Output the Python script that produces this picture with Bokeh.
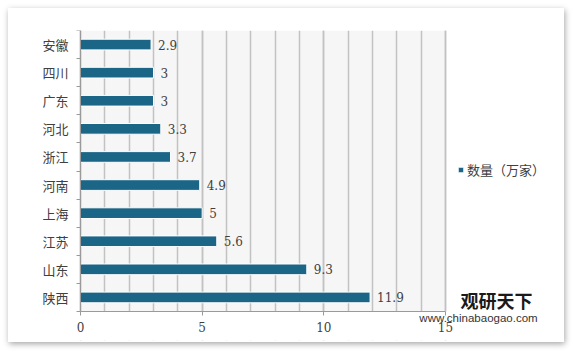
from bokeh.plotting import figure
from bokeh.models import (Range1d, LinearAxis, FixedTicker, Legend, LegendItem,
                          Label, ColumnDataSource, BoxAnnotation, Grid)
from bokeh.core.properties import value
from bokeh.embed import file_html
from bokeh.resources import INLINE

provinces = ["安徽", "四川", "广东", "河北", "浙江", "河南", "上海", "江苏", "山东", "陕西"]
counts = [2.9, 3, 3, 3.3, 3.7, 4.9, 5, 5.6, 9.3, 11.9]
count_labels = ["2.9", "3", "3", "3.3", "3.7", "4.9", "5", "5.6", "9.3", "11.9"]
series_name = "数量（万家）"
x_ticks = [0, 5, 10, 15]

n = len(provinces)
cats = provinces[::-1]
vals = counts[::-1]
labs = count_labels[::-1]
pos = [i + 0.5 for i in range(n)]  # category centres (bottom to top)
src = ColumnDataSource(dict(pos=pos, prov=cats, val=vals, lab=labs))

BAR = "#1b6587"
AXIS = "#9a9a9a"
GRID = "#c2c2c2"
TXT = "#404040"

# layout (pixels inside the 556x334 card)
W, H = 556, 334
LEFT, TOP, RIGHT, BOTTOM = 4, 22, 4, 2
PLOT_LEFT = 72                     # grey plot area left edge inside the card
PLOT_W, PLOT_H = 365, 281          # grey plot area size
frame_w = W - LEFT - RIGHT
frame_h = H - TOP - BOTTOM
ppu = PLOT_W / x_ticks[-1]
x_start = -(PLOT_LEFT - LEFT) / ppu
x_end = x_start + frame_w / ppu
y_start = -n * (frame_h - PLOT_H) / PLOT_H

p = figure(width=W, height=H, y_range=Range1d(y_start, n), x_range=Range1d(x_start, x_end),
           output_backend="svg", toolbar_location=None, y_axis_location=None,
           min_border_left=LEFT, min_border_right=RIGHT, min_border_top=TOP, min_border_bottom=BOTTOM)
p.margin = (8, 0, 0, 8)
p.styles = {"box-shadow": "1px 2px 6px rgba(0,0,0,0.35)"}
p.background_fill_color = "white"
p.border_fill_color = "white"
p.outline_line_color = None

# grey plot area
p.add_layout(BoxAnnotation(left=x_ticks[0], right=x_ticks[-1], bottom=0, top=n,
                           fill_color="#f6f6f6", fill_alpha=1, line_color=None, level="image"))

bars = p.hbar(y="pos", right="val", height=0.38, source=src,
              fill_color=BAR, line_color="white", line_width=1)
p.text(x="val", y="pos", text="lab", source=src, x_offset=7, text_baseline="middle",
       text_font=value("DejaVu Serif"), text_font_size="12px", text_color=TXT)

# x axis drawn at y = 0
xa = p.xaxis[0]
xa.fixed_location = 0
xa.bounds = (x_ticks[0], x_ticks[-1])
xa.ticker = FixedTicker(ticks=x_ticks, minor_ticks=list(range(x_ticks[0], x_ticks[-1] + 1)))
xa.axis_line_color = AXIS
xa.major_tick_line_color = AXIS
xa.major_tick_out = 4
xa.major_tick_in = 0
xa.minor_tick_line_color = None
xa.major_label_text_font = "DejaVu Serif"
xa.major_label_text_font_size = "12px"
xa.major_label_text_color = TXT
xa.major_label_standoff = 6

for g in p.center:
    if isinstance(g, Grid):
        if g.dimension == 0:
            g.grid_line_color = GRID
            g.minor_grid_line_color = GRID
            g.grid_line_width = 1.5
            g.minor_grid_line_width = 1.5
        else:
            g.visible = False

# hide grid lines below the plot area
p.add_layout(BoxAnnotation(top=0, fill_color="white", fill_alpha=1, line_color=None, level="underlay"))

# y axis drawn at x = 0: labels at band centres, tick marks between categories (minor ticks)
cat_axis = LinearAxis(ticker=FixedTicker(ticks=pos, minor_ticks=list(range(n + 1))),
                      major_label_overrides={pv: c for pv, c in zip(pos, cats)},
                      bounds=(0, n), fixed_location=0,
                      axis_line_color=AXIS, major_tick_line_color=None,
                      major_tick_out=4, major_tick_in=0,
                      minor_tick_line_color=AXIS, minor_tick_out=4, minor_tick_in=0,
                      major_label_standoff=8, major_label_text_font="Noto Sans CJK SC",
                      major_label_text_font_size="13px", major_label_text_color=TXT)
p.add_layout(cat_axis, "left")

# legend (screen offsets from frame bottom-left)
legend = Legend(items=[LegendItem(label=series_name, renderers=[bars])], location=(445, 161),
                padding=0, margin=0, border_line_color=None, background_fill_alpha=0,
                glyph_width=7, glyph_height=7, label_standoff=3,
                label_text_font="Noto Sans CJK SC", label_text_font_size="13px",
                label_text_color=TXT)
p.add_layout(legend, "center")

p.add_layout(Label(x=484, y=41, x_units="screen", y_units="screen", text="观研天下",
                   text_font="Noto Sans CJK SC", text_font_size="18px", text_font_style="bold",
                   text_color="#1a1a1a", text_align="center", text_baseline="middle"))
p.add_layout(Label(x=466, y=23, x_units="screen", y_units="screen", text="www.chinabaogao.com",
                   text_font="Liberation Sans", text_font_size="11.5px",
                   text_color="#333333", text_align="center", text_baseline="middle"))

open("out.html", "w").write(file_html(p, INLINE))
